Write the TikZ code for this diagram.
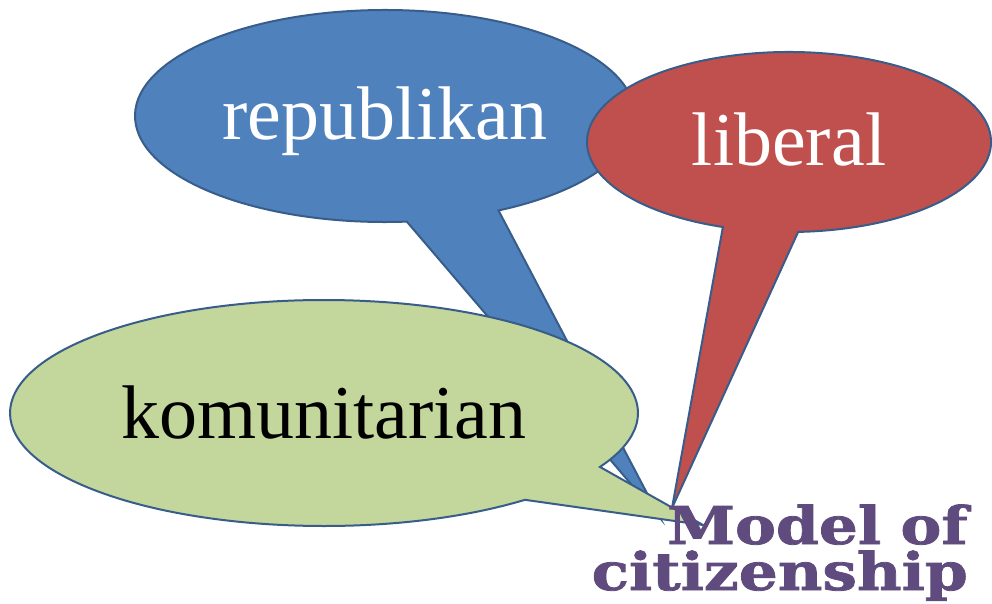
\documentclass[tikz,border=0pt]{standalone}
\usepackage{fontspec}
\setmainfont{Liberation Serif}
\newfontfamily\modelfont[FakeStretch=1.18,FakeBold=1.5]{DejaVu Serif Bold}
\definecolor{edge}{RGB}{56,93,138}
\definecolor{cblue}{RGB}{79,129,189}
\definecolor{cred}{RGB}{192,80,77}
\definecolor{cgreen}{RGB}{195,214,155}
\definecolor{cpurple}{RGB}{95,75,125}
\tikzset{
  bubble/.style={draw=edge, line width=2, line join=miter},
  bubbletext/.style={anchor=base, inner sep=0, font=\fontsize{76}{80}\selectfont},
  modeltext/.style={anchor=base east, inner sep=0, align=right, text=cpurple, font=\modelfont\fontsize{52}{46}\selectfont}
}
\begin{document}
\begin{tikzpicture}[x=1pt,y=-1pt]
\useasboundingbox (0,0) rectangle (992,604);
% tips
\coordinate (tipB) at (660,518);
\coordinate (tipR) at (672,508);
\coordinate (tipG) at (703,525);
% republikan bubble
\draw[bubble, fill=cblue] (385,116) ++(85:250 and 106)
  arc[start angle=85, end angle=423, x radius=250, y radius=106] -- (tipB) -- cycle;
% liberal bubble
\draw[bubble, fill=cred] (789,142) ++(109.1:202 and 90)
  arc[start angle=109.1, end angle=447.4, x radius=202, y radius=90] -- (tipR) -- cycle;
% komunitarian bubble
\draw[bubble, fill=cgreen] (324,413) ++(50.2:314 and 113)
  arc[start angle=50.2, end angle=388.5, x radius=314, y radius=113] -- (tipG) -- cycle;
% texts
\node[bubbletext, text=white] (rep) at (385,140) {republikan};
\node[bubbletext, text=white] (lib) at (789,165) {liberal};
\node[bubbletext, text=black] (kom) at (324,438) {komunitarian};
\node[modeltext] (model) at (968,590) {Model\kern-0.04em\ of\\citizenship};
\end{tikzpicture}
\end{document}
